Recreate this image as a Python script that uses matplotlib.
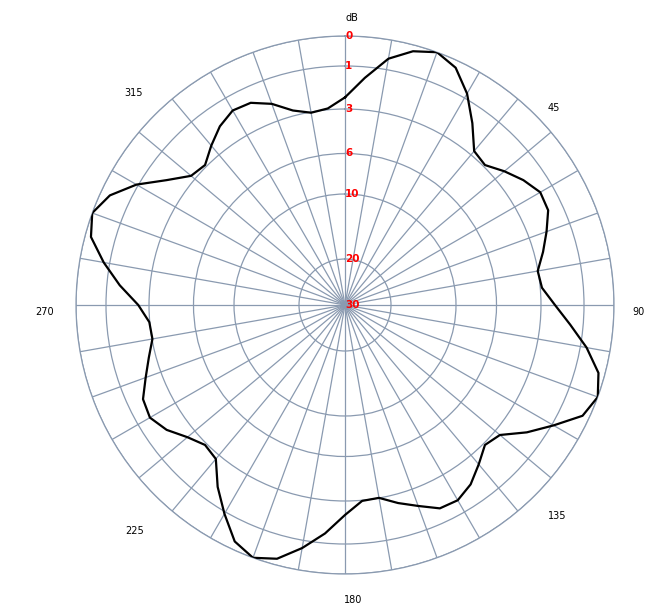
import numpy as np
import matplotlib.pyplot as plt

# measured pattern, one reading every 5 degrees (dB below peak)
angles_deg = np.arange(0, 360, 5)
level_db = [2.46, 1.51, 0.63, 0.21, 0.00, 0.24, 0.83, 1.79, 2.77, 2.91,
            2.44, 1.99, 1.63, 1.69, 2.14, 2.58, 3.02, 2.92,
            2.35, 1.60, 0.79, 0.22, 0.00, 0.23, 0.94, 1.79, 2.71, 2.91,
            2.44, 1.93, 1.63, 1.68, 2.17, 2.58, 3.01, 2.97,
            2.35, 1.45, 0.74, 0.21, 0.00, 0.27, 0.93, 1.79, 2.77, 2.91,
            2.55, 1.99, 1.64, 1.75, 2.25, 2.67, 3.03, 2.98,
            2.50, 1.60, 0.80, 0.20, 0.00, 0.32, 0.94, 1.99, 2.77, 2.91,
            2.44, 1.97, 1.67, 1.74, 2.16, 2.75, 3.05, 2.94]

# radial rings and where they sit (fraction of the outer radius)
ring_db = [0, 1, 3, 6, 10, 20, 30]
ring_frac = [1.0, 0.8885, 0.7286, 0.5632, 0.4126, 0.171, 0.0]

angle_labels = ['dB', '45', '90', '135', '180', '225', '270', '315']


def db_forward(d):
    return 1.0 - np.interp(d, ring_db, ring_frac)


def db_inverse(y):
    return np.interp(1.0 - np.asarray(y), ring_frac[::-1], ring_db[::-1])


grid_color = '#8a9ab0'

fig = plt.figure(figsize=(6.59, 6.10), dpi=100)
ax = fig.add_axes([76 / 659, 36 / 610, 538 / 659, 538 / 610], projection='polar')
ax.set_theta_zero_location('N')
ax.set_theta_direction(-1)
ax.set_yscale('function', functions=(db_forward, db_inverse))
ax.set_ylim(30, 0)

ax.set_xticks(np.radians(np.arange(0, 360, 10)))
ax.set_xticklabels([])
ax.set_yticks(ring_db)
ax.set_yticklabels([])
ax.tick_params(length=0)
ax.grid(True, color=grid_color, linewidth=0.9, linestyle='-')
ax.spines['polar'].set_color(grid_color)
ax.spines['polar'].set_linewidth(0.9)

# curve (closed)
theta = np.radians(np.append(angles_deg, 360))
vals = np.append(level_db, level_db[0])
ax.plot(theta, vals, color='black', linewidth=1.6, zorder=5)

# ring labels along the 0 deg spoke
for d in ring_db:
    ax.text(0, d, str(d), ha='left', va='center', color='red',
            fontsize=7.5, fontweight='bold', zorder=6)

# angle labels round the outside (pixel offsets from centre)
label_offsets = [(7, -287), (209, -197), (293, 7), (212, 211),
                 (8, 295), (-210, 226), (-300, 7), (-211, -212)]
for txt, (dx, dy) in zip(angle_labels, label_offsets):
    ax.text(0.5 + dx / 538, 0.5 - dy / 538, txt, transform=ax.transAxes,
            ha='center', va='center', fontsize=7, color='black')

plt.savefig('out.png', dpi=100)
